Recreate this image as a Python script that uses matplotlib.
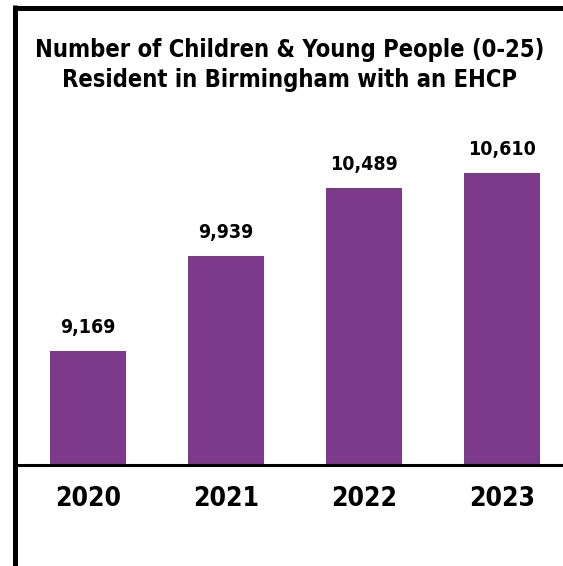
import matplotlib
matplotlib.use('Agg')
import matplotlib.pyplot as plt
from matplotlib.lines import Line2D

# data
years = ['2020', '2021', '2022', '2023']
ehcp = [9169, 9939, 10489, 10610]
title = 'Number of Children & Young People (0-25)\nResident in Birmingham with an EHCP'

purple = '#7d3a8b'
plt.rcParams['font.family'] = ['DejaVu Sans']
plt.rcParams['font.stretch'] = 'condensed'

W, H = 563, 566
fig = plt.figure(figsize=(W/100, H/100), dpi=100)
fig.patch.set_facecolor('white')

# axes placed in pixel terms
ax_l, ax_r, ax_t, ax_b = 17, 563, 120, 465
ax = fig.add_axes([ax_l/W, (H-ax_b)/H, (ax_r-ax_l)/W, (ax_b-ax_t)/H])

x = list(range(len(years)))
bars = ax.bar(x, ehcp, width=0.55, color=purple, zorder=2)

# baseline sits at about 8246, so bars start well above zero
ax.set_ylim(8246, 8246 + (ax_b-ax_t)/0.1235)
ax.set_xlim(-(88-ax_l)/138, (ax_r-88)/138)

for b, v in zip(bars, ehcp):
	ax.annotate('{:,}'.format(v), (b.get_x()+b.get_width()/2, v),
		xytext=(0, 10), textcoords='offset points',
		ha='center', va='bottom', fontsize=14, fontweight='bold',
		fontstretch='condensed')

ax.set_xticks(x)
ax.set_xticklabels(years, fontsize=19, fontweight='bold', fontstretch='condensed')
ax.tick_params(axis='x', length=0, pad=15)
ax.set_yticks([])
for s in ['top', 'right', 'left']:
	ax.spines[s].set_visible(False)
ax.spines['bottom'].set_linewidth(2.2)

fig.text(290/W, 1-65/H, title, ha='center', va='center',
	fontsize=17, fontweight='bold', fontstretch='condensed', linespacing=1.3)

# frame on the left and top edges of the graphic
fig.add_artist(Line2D([15/W, 15/W], [0, 1-5/H], color='black', lw=3.6,
	transform=fig.transFigure, solid_capstyle='butt'))
fig.add_artist(Line2D([13/W, 1], [1-7.5/H, 1-7.5/H], color='black', lw=3.6,
	transform=fig.transFigure, solid_capstyle='butt'))

plt.savefig('out.png', dpi=100)
